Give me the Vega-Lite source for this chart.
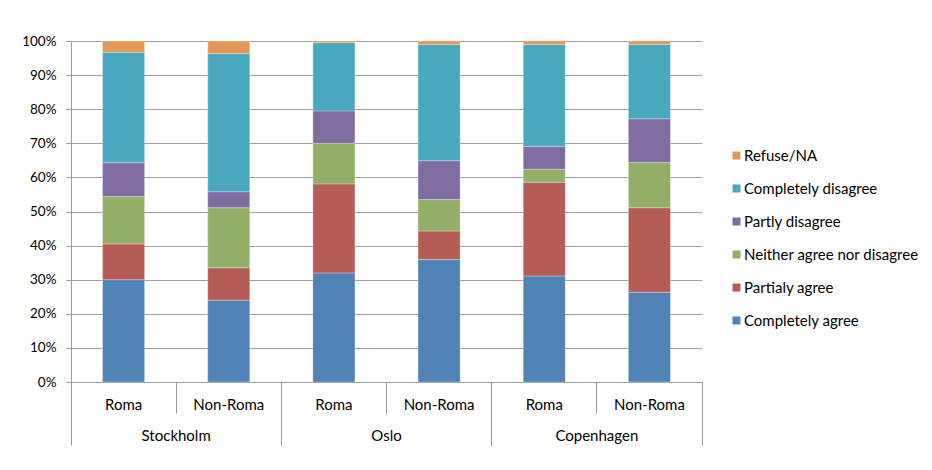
{
  "$schema": "https://vega.github.io/schema/vega-lite/v6.json",
  "width": 631,
  "height": 341,
  "autosize": {"type": "none"},
  "padding": {"left": 71, "top": 41, "right": 230, "bottom": 88},
  "background": "#ffffff",
  "config": {
    "view": {"stroke": null},
    "font": "Lato",
    "axis": {"labelFont": "Lato", "labelFontSize": 13, "labelColor": "#000000", "domainColor": "#9a9a9a", "tickColor": "#9a9a9a", "gridColor": "#a0a0a0", "title": null},
    "legend": {"labelFont": "Lato", "labelFontSize": 15, "labelColor": "#000000", "labelLimit": 300}
  },
  "resolve": {"scale": {"x": "independent"}, "axis": {"x": "independent"}},
  "layer": [
    {
      "data": {"values": [
        {"bar": "Stockholm Roma", "answer": "Completely agree", "k": 1, "v": 30.0},
        {"bar": "Stockholm Roma", "answer": "Partialy agree", "k": 2, "v": 10.5},
        {"bar": "Stockholm Roma", "answer": "Neither agree nor disagree", "k": 3, "v": 13.9},
        {"bar": "Stockholm Roma", "answer": "Partly disagree", "k": 4, "v": 9.9},
        {"bar": "Stockholm Roma", "answer": "Completely disagree", "k": 5, "v": 32.4},
        {"bar": "Stockholm Roma", "answer": "Refuse/NA", "k": 6, "v": 3.3},
        {"bar": "Stockholm Non-Roma", "answer": "Completely agree", "k": 1, "v": 24.0},
        {"bar": "Stockholm Non-Roma", "answer": "Partialy agree", "k": 2, "v": 9.5},
        {"bar": "Stockholm Non-Roma", "answer": "Neither agree nor disagree", "k": 3, "v": 17.6},
        {"bar": "Stockholm Non-Roma", "answer": "Partly disagree", "k": 4, "v": 4.7},
        {"bar": "Stockholm Non-Roma", "answer": "Completely disagree", "k": 5, "v": 40.5},
        {"bar": "Stockholm Non-Roma", "answer": "Refuse/NA", "k": 6, "v": 3.7},
        {"bar": "Oslo Roma", "answer": "Completely agree", "k": 1, "v": 32.0},
        {"bar": "Oslo Roma", "answer": "Partialy agree", "k": 2, "v": 26.1},
        {"bar": "Oslo Roma", "answer": "Neither agree nor disagree", "k": 3, "v": 11.9},
        {"bar": "Oslo Roma", "answer": "Partly disagree", "k": 4, "v": 9.5},
        {"bar": "Oslo Roma", "answer": "Completely disagree", "k": 5, "v": 20.0},
        {"bar": "Oslo Roma", "answer": "Refuse/NA", "k": 6, "v": 0.5},
        {"bar": "Oslo Non-Roma", "answer": "Completely agree", "k": 1, "v": 35.9},
        {"bar": "Oslo Non-Roma", "answer": "Partialy agree", "k": 2, "v": 8.4},
        {"bar": "Oslo Non-Roma", "answer": "Neither agree nor disagree", "k": 3, "v": 9.2},
        {"bar": "Oslo Non-Roma", "answer": "Partly disagree", "k": 4, "v": 11.4},
        {"bar": "Oslo Non-Roma", "answer": "Completely disagree", "k": 5, "v": 34.1},
        {"bar": "Oslo Non-Roma", "answer": "Refuse/NA", "k": 6, "v": 1.0},
        {"bar": "Copenhagen Roma", "answer": "Completely agree", "k": 1, "v": 31.1},
        {"bar": "Copenhagen Roma", "answer": "Partialy agree", "k": 2, "v": 27.5},
        {"bar": "Copenhagen Roma", "answer": "Neither agree nor disagree", "k": 3, "v": 3.8},
        {"bar": "Copenhagen Roma", "answer": "Partly disagree", "k": 4, "v": 6.7},
        {"bar": "Copenhagen Roma", "answer": "Completely disagree", "k": 5, "v": 29.9},
        {"bar": "Copenhagen Roma", "answer": "Refuse/NA", "k": 6, "v": 1.0},
        {"bar": "Copenhagen Non-Roma", "answer": "Completely agree", "k": 1, "v": 26.3},
        {"bar": "Copenhagen Non-Roma", "answer": "Partialy agree", "k": 2, "v": 24.8},
        {"bar": "Copenhagen Non-Roma", "answer": "Neither agree nor disagree", "k": 3, "v": 13.3},
        {"bar": "Copenhagen Non-Roma", "answer": "Partly disagree", "k": 4, "v": 12.8},
        {"bar": "Copenhagen Non-Roma", "answer": "Completely disagree", "k": 5, "v": 21.8},
        {"bar": "Copenhagen Non-Roma", "answer": "Refuse/NA", "k": 6, "v": 1.0}
      ]},
      "mark": {"type": "bar", "width": {"band": 0.4}, "stroke": "#ffffff", "strokeWidth": 0.5, "strokeOpacity": 0.6},
      "encoding": {
        "x": {
          "field": "bar", "type": "nominal", "sort": null,
          "scale": {"type": "band", "paddingInner": 0, "paddingOuter": 0},
          "axis": {"orient": "bottom", "labelExpr": "split(datum.label, ' ')[1]", "labelFontSize": 15, "labelAngle": 0, "bandPosition": 0, "tickSize": 31, "labelDx": 52.6, "labelAlign": "center", "labelBaseline": "middle", "labelPadding": -9, "domainColor": "#9a9a9a"}
        },
        "y": {
          "field": "v", "type": "quantitative", "stack": "normalize",
          "scale": {"domain": [0, 1]},
          "axis": {"format": ".0%", "values": [0, 0.1, 0.2, 0.3, 0.4, 0.5, 0.6, 0.7, 0.8, 0.9, 1], "labelFontSize": 13.5, "tickSize": 5, "labelPadding": 10, "grid": true, "domainColor": "#9a9a9a"}
        },
        "order": {"field": "k", "type": "quantitative"},
        "color": {
          "field": "answer", "type": "nominal",
          "scale": {
            "domain": ["Refuse/NA", "Completely disagree", "Partly disagree", "Neither agree nor disagree", "Partialy agree", "Completely agree"],
            "range": ["#E49657", "#47A8BE", "#7F6CA0", "#93AF67", "#B65C57", "#4F82B6"]
          },
          "legend": {"title": null, "orient": "none", "legendX": 658, "legendY": 107, "symbolType": "square", "symbolSize": 64, "symbolStrokeWidth": 0, "rowPadding": 17, "labelOffset": 0}
        }
      }
    },
    {
      "data": {"values": [{"city": "Stockholm"}, {"city": "Oslo"}, {"city": "Copenhagen"}]},
      "mark": {"type": "point", "opacity": 0},
      "encoding": {
        "x": {
          "field": "city", "type": "nominal", "sort": null,
          "scale": {"type": "band", "paddingInner": 0, "paddingOuter": 0},
          "axis": {"orient": "bottom", "labelFontSize": 15, "labelAngle": 0, "bandPosition": 0, "tickSize": 63, "labelDx": 105.2, "labelAlign": "center", "labelBaseline": "middle", "labelPadding": -10, "domain": false}
        }
      }
    },
    {
      "data": {"values": [{"city": "Stockholm"}, {"city": "Oslo"}, {"city": "Copenhagen"}]},
      "mark": {"type": "point", "opacity": 0},
      "encoding": {
        "x": {
          "field": "city", "type": "nominal", "sort": null,
          "scale": {"type": "band", "paddingInner": 0, "paddingOuter": 0},
          "axis": {"orient": "bottom", "labels": false, "bandPosition": 1, "tickSize": 63, "domain": false}
        }
      }
    }
  ]
}
